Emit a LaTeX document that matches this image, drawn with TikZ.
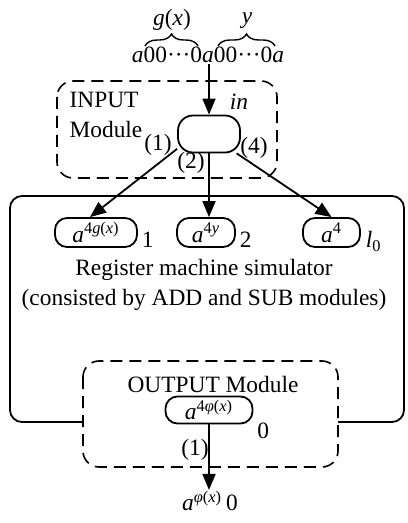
\documentclass[tikz,border=0pt]{standalone}
\usepackage{fontspec}
\setmainfont{Liberation Serif}
\usetikzlibrary{arrows.meta,decorations.pathreplacing,positioning}
\begin{document}
\begin{tikzpicture}[x=0.5pt,y=-0.5pt,font=\fontsize{11.7}{15}\selectfont,
   >={Triangle[length=8pt,width=6.5pt]},line width=0.9pt,
   reg/.style={draw,rounded corners=6pt,minimum height=14.5pt,inner sep=0pt},
   module/.style={draw,dash pattern=on 6pt off 3.5pt,rounded corners=8pt,line width=0.8pt},
   txt/.style={inner sep=0pt}]
   \useasboundingbox (0,0) rectangle (407,523);
   \node[txt] (word) at (208,55) {\textit{a}00···0\textit{a}00···0\textit{a}};
   \draw[line width=0.7pt,decorate,decoration={brace,amplitude=6pt}] (145,46) -- (198,46);
   \draw[line width=0.7pt,decorate,decoration={brace,amplitude=6pt}] (218,46) -- (275,46);
   \node[txt] (gx) at (172,20) {\textit{g}(\textit{x})};
   \node[txt] (yv) at (247,21) {\textit{y}};
   \draw[module] (57,81) rectangle (277,178);
   \node[align=left,anchor=west] (inmod) at (62,115) {INPUT\\Module};
   \node[reg,minimum width=31pt,minimum height=18.5pt,rounded corners=7.5pt] (in) at (209,134) {};
   \node[anchor=south,inner sep=2pt] (inlab) at ([xshift=-1pt]in.north east) {\textit{in}};
   \draw[->] (in.north |- word.south) -- (in.north);
   \draw[rounded corners=6pt] (10,196) rectangle (404,422);
   \node[reg,minimum width=41pt] (r1) at (96,232.5) {\textit{a}\textsuperscript{4\textit{g}(\textit{x})}};
   \node[reg,minimum width=29pt] (r2) at (206,232.5) {\textit{a}\textsuperscript{4\textit{y}}};
   \node[reg,minimum width=28.5pt] (r3) at (331.5,232.5) {\textit{a}\textsuperscript{4}};
   \node[anchor=base west,inner sep=1.5pt] (r1lab) at (r1.south east) {1};
   \node[anchor=base west,inner sep=1.5pt] (r2lab) at (r2.south east) {2};
   \node[anchor=base west,inner sep=2pt] (r3lab) at (r3.south east) {\textit{l}\textsubscript{0}};
   \draw[->] (in.205) -- ([xshift=-3pt]r1.north);
   \draw[->] (in.south) -- (in.south |- r2.north);
   \draw[->] (in.-35) -- (r3.north);
   \node (l1) at (158,145) {(1)};
   \node (l2) at (191,163) {(2)};
   \node (l4) at (254,148) {(4)};
   \node[align=center] (rms) at (204,285) {Register machine simulator\\(consisted by ADD and SUB modules)};
   \draw[module,fill=white] (83,361) rectangle (338,467);
   \node (outmod) at (213,384) {OUTPUT Module};
   \node[reg,minimum width=43.5pt,minimum height=13.5pt] (out) at (209,410) {\textit{a}\textsuperscript{4\textit{φ}(\textit{x})}};
   \node[anchor=west,inner sep=1.5pt] (outlab) at ([yshift=-3pt]out.south east) {0};
   \node[txt] (res) at (210,501) {\textit{a}\textsuperscript{\textit{φ}(\textit{x})}\,0};
   \draw[->] (out.south) -- (out.south |- res.north);
   \node (l1b) at (195,450) {(1)};
\end{tikzpicture}
\end{document}
